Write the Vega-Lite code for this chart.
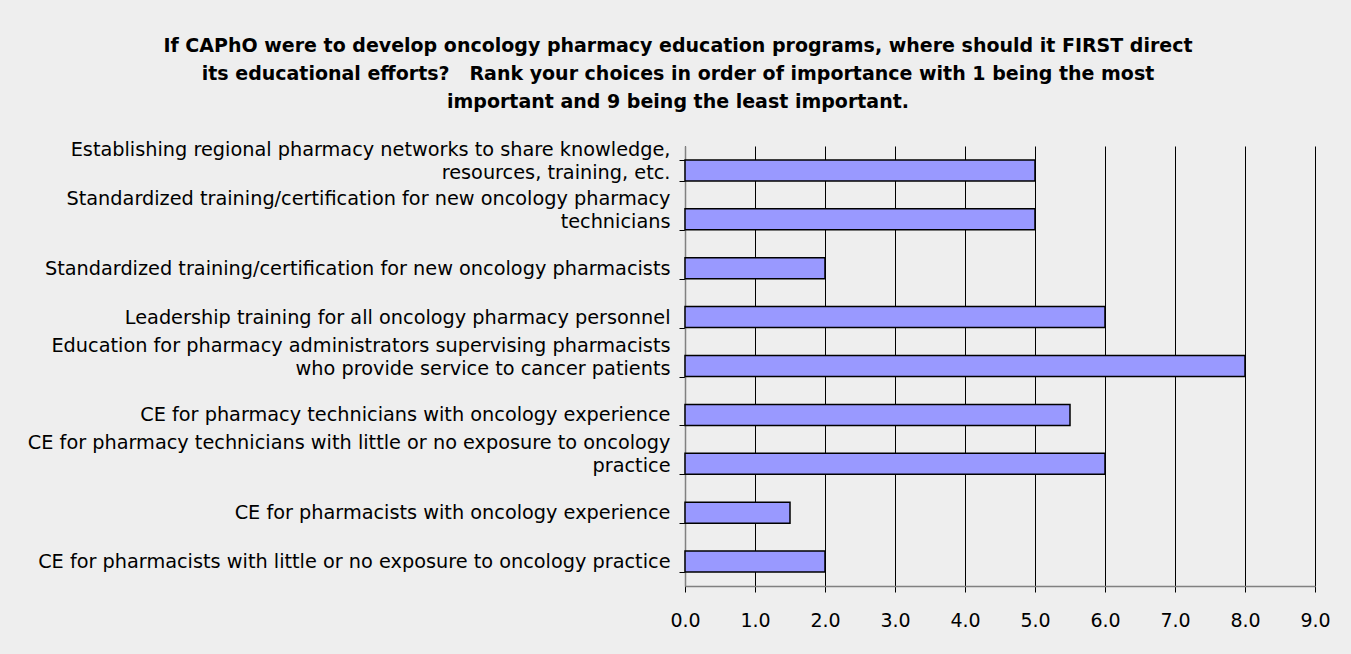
{
  "$schema": "https://vega.github.io/schema/vega-lite/v6.json",
  "autosize": "none",
  "width": 630,
  "height": 440,
  "padding": {"left": 685, "top": 146, "right": 36, "bottom": 68},
  "background": "#EEEEEE",
  "title": {
    "text": ["If CAPhO were to develop oncology pharmacy education programs, where should it FIRST direct", "its educational efforts?\u00a0\u00a0 Rank your choices in order of importance with 1 being the most", "important and 9 being the least important."],
    "font": "DejaVu Sans",
    "fontSize": 19,
    "fontWeight": "bold",
    "color": "#000000",
    "lineHeight": 28,
    "anchor": "middle",
    "frame": "group",
    "dx": -322,
    "offset": 25
  },
  "data": {
    "values": [
      {"item": "Establishing regional pharmacy networks to share knowledge,|resources, training, etc.", "score": 5},
      {"item": "Standardized training/certification for new oncology pharmacy|technicians", "score": 5},
      {"item": "Standardized training/certification for new oncology pharmacists", "score": 2},
      {"item": "Leadership training for all oncology pharmacy personnel", "score": 6},
      {"item": "Education for pharmacy administrators supervising pharmacists|who provide service to cancer patients", "score": 8},
      {"item": "CE for pharmacy technicians with oncology experience", "score": 5.5},
      {"item": "CE for pharmacy technicians with little or no exposure to oncology|practice", "score": 6},
      {"item": "CE for pharmacists with oncology experience", "score": 1.5},
      {"item": "CE for pharmacists with little or no exposure to oncology practice", "score": 2}
    ]
  },
  "mark": {"type": "bar", "fill": "#9999FF", "stroke": "#000000", "strokeWidth": 1.5},
  "encoding": {
    "y": {
      "field": "item",
      "type": "nominal",
      "sort": null,
      "scale": {"paddingInner": 0.57, "paddingOuter": 0.285},
      "axis": {
        "title": null,
        "labelExpr": "datum.value ? split(datum.value, '|') : ''",
        "labelFont": "DejaVu Sans",
        "labelFontSize": 19.3,
        "labelColor": "#000000",
        "labelLineHeight": 23,
        "labelLimit": 800,
        "labelPadding": 9,
        "labelOffset": {"condition": {"test": "datum.value && indexof(datum.value, '|') >= 0", "value": -21}, "value": 0},
        "tickBand": "extent",
        "tickSize": 6,
        "tickColor": "#000000",
        "domainColor": "#808080",
        "domainWidth": 1.5,
        "grid": false
      }
    },
    "x": {
      "field": "score",
      "type": "quantitative",
      "scale": {"domain": [0, 9], "nice": false},
      "axis": {
        "title": null,
        "values": [0, 1, 2, 3, 4, 5, 6, 7, 8, 9],
        "format": ".1f",
        "labelFlush": false,
        "labelFont": "DejaVu Sans",
        "labelFontSize": 19,
        "labelColor": "#000000",
        "labelPadding": 19,
        "tickSize": 6,
        "tickColor": "#000000",
        "domainColor": "#808080",
        "domainWidth": 1.5,
        "grid": true,
        "gridColor": "#000000",
        "gridWidth": 1,
        "gridOpacity": 1
      }
    }
  },
  "config": {"view": {"stroke": null}}
}
